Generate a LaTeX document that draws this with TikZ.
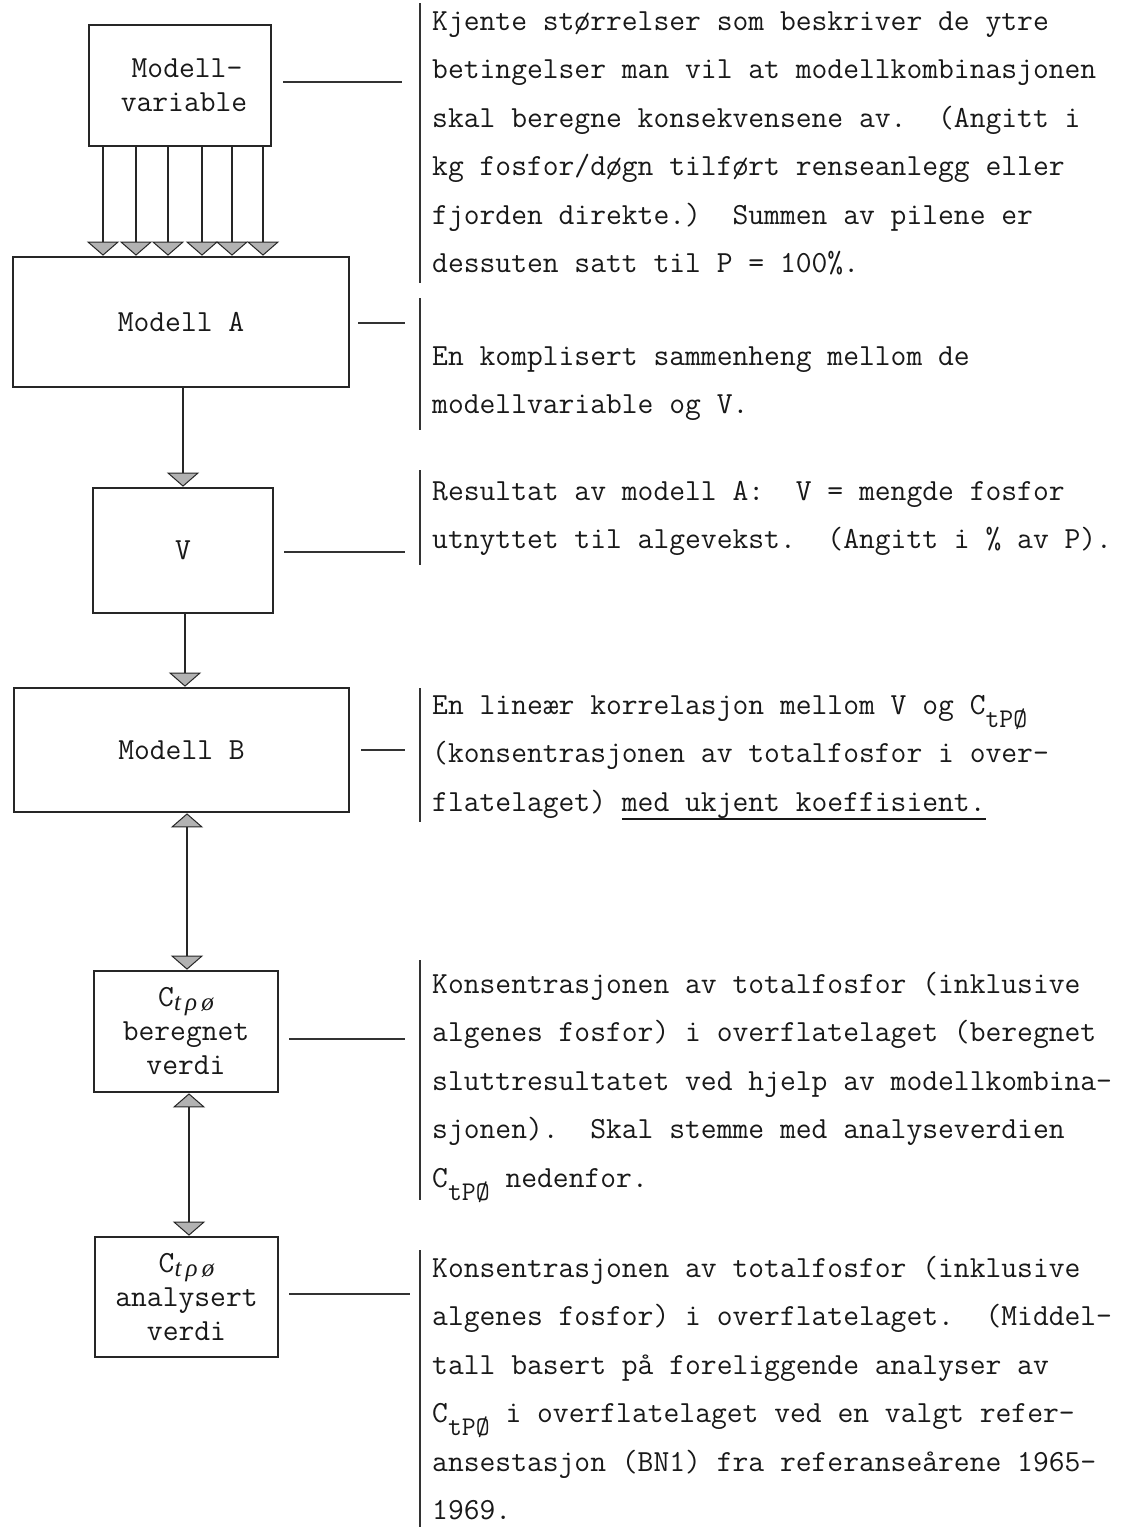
\documentclass[tikz,border=0pt]{standalone}
\usepackage{fontspec}
\usetikzlibrary{arrows.meta}
\newfontfamily\handfont{Liberation Serif}
\newcommand\boxfont{\ttfamily\fontsize{30.7}{34}\selectfont}
\newcommand\txtfont{\ttfamily\fontsize{30.7}{48.5}\selectfont\frenchspacing}
\newcommand\blk[1]{\parbox[t]{800pt}{\txtfont\raggedright #1}}
\newcommand\tsub{\raisebox{-13pt}{\fontsize{27}{27}\selectfont tPØ}}
\newcommand\hsub{\raisebox{-4pt}{\handfont\itshape\fontsize{25}{25}\selectfont t\,ρ\,ø}}
\newcommand\myul[1]{\setbox0\hbox{#1}\rlap{\rule[-9pt]{\wd0}{1.6pt}}\box0}
\tikzset{
  box/.style={draw=black!85, line width=2.6pt, inner sep=0pt, font=\boxfont, align=center, text=black!90},
  desc/.style={anchor=base west, inner sep=0pt, text=black!90},
  bar/.style={draw=black!80, line width=2pt},
  tick/.style={draw=black!80, line width=2pt},
  conn/.style={draw=black!85, line width=2.6pt},
  >={Triangle[width=32pt,length=14pt,fill=gray!60,line width=1pt]}
}
\begin{document}
\begin{tikzpicture}[x=1pt,y=-1pt]
\useasboundingbox (0,0) rectangle (1147,1527);
\fill[white] (0,0) rectangle (1147,1527);

% boxes
\node[box, minimum width=182pt, minimum height=121pt] (mv) at (180,85.5) {\hspace*{14pt}Modell-\\\hspace*{8pt}variable};
\node[box, minimum width=336pt, minimum height=130pt] (ma) at (181,322) {Modell A};
\node[box, minimum width=180pt, minimum height=125pt] (v) at (183,550.5) {V};
\node[box, minimum width=335pt, minimum height=124pt] (mb) at (181.5,750) {Modell B};
\node[box, minimum width=184pt, minimum height=121pt] (ber) at (186,1031.5) {C\hsub\\beregnet\\verdi};
\node[box, minimum width=183pt, minimum height=120pt] (ana) at (186.5,1297) {C\hsub\\analysert\\verdi};

% six inputs
\foreach \i/\x in {1/103,2/136,3/168,4/202,5/232,6/263}{
  \coordinate (in\i) at (\x,0);
  \draw[conn,->] (mv.south -| in\i) -- (ma.north -| in\i);
}
% main flow
\coordinate (ca) at (183,0);
\coordinate (cb) at (185,0);
\coordinate (cc) at (187,0);
\coordinate (cd) at (189,0);
\draw[conn,->] (ma.south -| ca) -- (v.north -| ca);
\draw[conn,->] (v.south -| cb) -- (mb.north -| cb);
\draw[conn,<->] (mb.south -| cc) -- (ber.north -| cc);
\draw[conn,<->] (ber.south -| cd) -- (ana.north -| cd);

% ticks to descriptions
\coordinate (e1) at (402,82);
\coordinate (e2) at (405,323);
\coordinate (e3) at (405,552);
\coordinate (e4) at (405,750);
\coordinate (e5) at (405,1039);
\coordinate (e6) at (410,1294);
\draw[tick, shorten <=11pt] (mv.east |- e1) -- (e1);
\draw[tick, shorten <=8pt] (ma.east |- e2) -- (e2);
\draw[tick, shorten <=10pt] (v.east |- e3) -- (e3);
\draw[tick, shorten <=11pt] (mb.east |- e4) -- (e4);
\draw[tick, shorten <=10pt] (ber.east |- e5) -- (e5);
\draw[tick, shorten <=10pt] (ana.east |- e6) -- (e6);

% bars
\draw[bar] (420,3) -- (420,283);
\draw[bar] (420,298) -- (420,430);
\draw[bar] (420,470) -- (420,565);
\draw[bar] (420,688) -- (420,822);
\draw[bar] (420,960) -- (420,1200);
\draw[bar] (420,1250) -- (420,1527);

% descriptions
\node[desc] (d1) at (432,30) {\blk{Kjente størrelser som beskriver de ytre\\
betingelser man vil at modellkombinasjonen\\
skal beregne konsekvensene av.\ \ (Angitt i\\
kg fosfor/døgn tilført renseanlegg eller\\
fjorden direkte.)\ \ Summen av pilene er\\
dessuten satt til P = 100\%.}};
\node[desc] (d2) at (432,365) {\blk{En komplisert sammenheng mellom de\\
modellvariable og V.}};
\node[desc] (d3) at (432,500) {\blk{Resultat av modell A:\ \ V = mengde fosfor\\
utnyttet til algevekst.\ \ (Angitt i \% av P).}};
\node[desc] (d4) at (432,714) {\blk{En lineær korrelasjon mellom V og C\tsub\\
(konsentrasjonen av totalfosfor i over-\\
flatelaget) \myul{med ukjent koeffisient.}}};
\node[desc] (d5) at (432,993) {\blk{Konsentrasjonen av totalfosfor (inklusive\\
algenes fosfor) i overflatelaget (beregnet\\
sluttresultatet ved hjelp av modellkombina-\\
sjonen).\ \ Skal stemme med analyseverdien\\
C\tsub\ nedenfor.}};
\node[desc] (d6) at (432,1277) {\blk{Konsentrasjonen av totalfosfor (inklusive\\
algenes fosfor) i overflatelaget.\ \ (Middel-\\
tall basert på foreliggende analyser av\\
C\tsub\ i overflatelaget ved en valgt refer-\\
ansestasjon (BN1) fra referanseårene 1965-\\
1969.}};
\end{tikzpicture}
\end{document}
